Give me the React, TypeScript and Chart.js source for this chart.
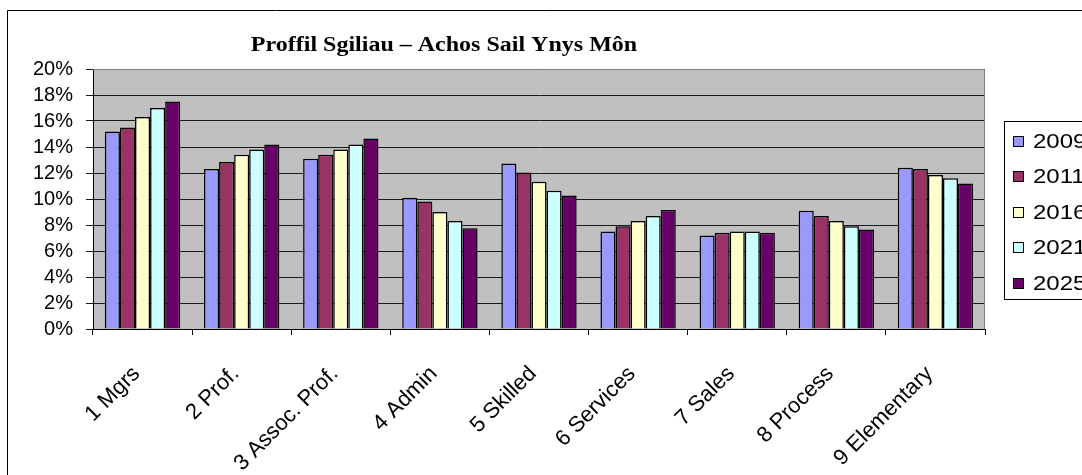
import React, { useEffect, useRef } from 'react';
import { Chart, registerables } from 'chart.js';

Chart.register(...registerables);

const titleText = 'Proffil Sgiliau – Achos Sail Ynys Môn';
const categories = ['1 Mgrs', '2 Prof.', '3 Assoc. Prof.', '4 Admin', '5 Skilled', '6 Services', '7 Sales', '8 Process', '9 Elementary'];
const years = ['2009', '2011', '2016', '2021', '2025'];
const s2009 = [15.2, 12.3, 13.1, 10.1, 12.74, 7.5, 7.2, 9.1, 12.4];
const s2011 = [15.5, 12.85, 13.4, 9.8, 12.03, 7.9, 7.4, 8.7, 12.3];
const s2016 = [16.3, 13.4, 13.8, 9.0, 11.33, 8.3, 7.5, 8.3, 11.85];
const s2021 = [17.0, 13.8, 14.2, 8.3, 10.64, 8.7, 7.5, 7.9, 11.6];
const s2025 = [17.5, 14.2, 14.65, 7.75, 10.26, 9.15, 7.4, 7.65, 11.2];
const seriesValues = [s2009, s2011, s2016, s2021, s2025];
const seriesColors = ['#9999FF', '#993366', '#FFFFCC', '#CCFFFF', '#660066'];
const yTickValues = [0, 2, 4, 6, 8, 10, 12, 14, 16, 18, 20];

const W = 1082;
const H = 475;

const framePlugin = {
  id: 'frame',
  beforeDraw(chart: any) {
    const { ctx, chartArea } = chart;
    ctx.save();
    ctx.fillStyle = '#ffffff';
    ctx.fillRect(0, 0, W, H);
    ctx.strokeStyle = '#000000';
    ctx.lineWidth = 1;
    ctx.beginPath();
    ctx.moveTo(7.5, H + 5);
    ctx.lineTo(7.5, 10.5);
    ctx.lineTo(W + 5, 10.5);
    ctx.stroke();
    ctx.fillStyle = '#C0C0C0';
    ctx.fillRect(chartArea.left, chartArea.top, chartArea.right - chartArea.left, chartArea.bottom - chartArea.top);
    ctx.restore();
  },
  afterDatasetsDraw(chart: any) {
    const { ctx, chartArea } = chart;
    ctx.save();
    ctx.strokeStyle = '#808080';
    ctx.lineWidth = 1;
    ctx.beginPath();
    ctx.moveTo(chartArea.left, chartArea.top + 0.5);
    ctx.lineTo(chartArea.right - 0.5, chartArea.top + 0.5);
    ctx.lineTo(chartArea.right - 0.5, chartArea.bottom);
    ctx.stroke();
    ctx.restore();
  },
  afterDraw(chart: any) {
    const { ctx } = chart;
    ctx.save();
    ctx.font = 'bold 20px "Liberation Serif", "Times New Roman", serif';
    ctx.fillStyle = '#000000';
    ctx.textBaseline = 'alphabetic';
    ctx.textAlign = 'center';
    ctx.translate(444, 51);
    ctx.scale(1.2, 1);
    ctx.fillText(titleText, 0, 0);
    ctx.restore();

    ctx.save();
    const lx = 1004.5;
    const ly = 121.5;
    ctx.strokeStyle = '#000000';
    ctx.lineWidth = 1;
    ctx.fillStyle = '#ffffff';
    ctx.fillRect(lx, ly, 200, 178);
    ctx.strokeRect(lx, ly, 200, 178);
    ctx.font = '20px "Liberation Sans", Arial, sans-serif';
    ctx.textBaseline = 'middle';
    ctx.textAlign = 'left';
    chart.data.datasets.forEach((ds: any, i: number) => {
      const cy = 141 + i * 35.5;
      const top = Math.round(cy - 5.5);
      ctx.fillStyle = ds.backgroundColor;
      ctx.fillRect(1013, top, 11, 11);
      ctx.strokeStyle = '#000000';
      ctx.strokeRect(1013.5, top + 0.5, 10, 10);
      ctx.save();
      ctx.fillStyle = '#000000';
      ctx.translate(1033, cy + 1);
      ctx.scale(1.2, 1);
      ctx.fillText(ds.label, 0, 0);
      ctx.restore();
    });
    ctx.restore();
  },
};

export default function App() {
  const ref = useRef<HTMLCanvasElement | null>(null);

  useEffect(() => {
    if (!ref.current) return;
    const chart = new Chart(ref.current, {
      type: 'bar',
      data: {
        labels: categories,
        datasets: years.map((y, i) => ({
          label: y,
          data: seriesValues[i],
          backgroundColor: seriesColors[i],
          borderColor: '#000000',
          borderWidth: 1.5,
          categoryPercentage: 0.76,
          barPercentage: 1,
        })),
      },
      options: {
        responsive: false,
        animation: false,
        events: [],
        layout: { padding: { left: 0, top: 69, right: 97, bottom: 0 } },
        plugins: {
          legend: { display: false },
          title: { display: false },
          tooltip: { enabled: false },
        },
        scales: {
          x: {
            afterFit: (scale: any) => {
              scale.height = 146;
            },
            grid: {
              offset: true,
              drawOnChartArea: false,
              drawTicks: true,
              tickLength: 6,
              color: '#000000',
            },
            border: { color: '#000000', width: 1 },
            ticks: {
              color: '#000000',
              minRotation: 45,
              maxRotation: 45,
              autoSkip: false,
              padding: 26,
              labelOffset: -6,
              font: { family: '"Liberation Sans", Arial, sans-serif', size: 22 },
            },
          },
          y: {
            min: yTickValues[0],
            max: yTickValues[yTickValues.length - 1],
            afterFit: (scale: any) => {
              scale.width = 93;
            },
            afterBuildTicks: (scale: any) => {
              scale.ticks = yTickValues.map((v) => ({ value: v }));
            },
            grid: {
              color: '#1a1a1a',
              drawTicks: true,
              tickLength: 7,
            },
            border: { color: '#000000', width: 1 },
            ticks: {
              autoSkip: false,
              color: '#000000',
              padding: 13,
              callback: (v: any) => `${v}%`,
              font: { family: '"Liberation Sans", Arial, sans-serif', size: 20 },
            },
          },
        },
      },
      plugins: [framePlugin],
    });
    return () => chart.destroy();
  }, []);

  return (
    <div style={{ position: 'absolute', left: 0, top: 0, width: W, height: H, background: '#ffffff' }}>
      <canvas ref={ref} width={W} height={H} style={{ display: 'block', width: W, height: H }} />
    </div>
  );
}
